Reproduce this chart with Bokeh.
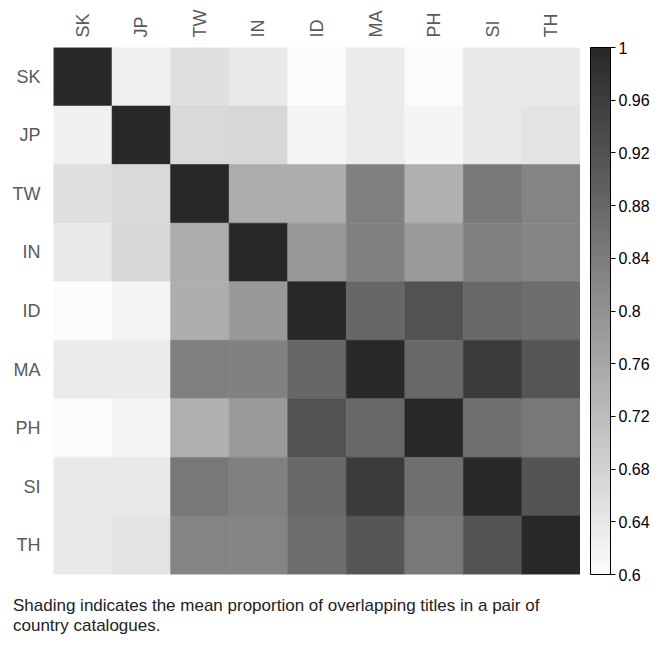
from bokeh.plotting import figure
from bokeh.models import (ColumnDataSource, LinearColorMapper, ColorBar, FixedTicker,
                          Div, CustomJSTickFormatter, Range1d)
from bokeh.layouts import column, row
from bokeh.embed import file_html
from bokeh.resources import INLINE

countries = ["SK", "JP", "TW", "IN", "ID", "MA", "PH", "SI", "TH"]

# mean proportion of overlapping titles (rows follow the country order)
row_SK = [1.000, 0.623, 0.655, 0.638, 0.600, 0.632, 0.602, 0.636, 0.636]
row_JP = [0.623, 1.000, 0.666, 0.670, 0.617, 0.634, 0.615, 0.638, 0.647]
row_TW = [0.655, 0.666, 1.000, 0.749, 0.747, 0.834, 0.743, 0.849, 0.825]
row_IN = [0.638, 0.670, 0.749, 1.000, 0.789, 0.832, 0.785, 0.834, 0.826]
row_ID = [0.600, 0.617, 0.747, 0.789, 1.000, 0.881, 0.919, 0.877, 0.870]
row_MA = [0.632, 0.634, 0.834, 0.832, 0.881, 1.000, 0.879, 0.964, 0.915]
row_PH = [0.602, 0.615, 0.743, 0.785, 0.919, 0.879, 1.000, 0.864, 0.849]
row_SI = [0.636, 0.638, 0.849, 0.834, 0.877, 0.964, 0.864, 1.000, 0.917]
row_TH = [0.636, 0.647, 0.825, 0.826, 0.870, 0.915, 0.849, 0.917, 1.000]
rows = [row_SK, row_JP, row_TW, row_IN, row_ID, row_MA, row_PH, row_SI, row_TH]

colorbar_ticks = [0.6, 0.64, 0.68, 0.72, 0.76, 0.8, 0.84, 0.88, 0.92, 0.96, 1]

caption = ("Shading indicates the mean proportion of overlapping titles in a pair of"
           "<br>country catalogues.")

xs, ys, vals = [], [], []
for r, rw in zip(countries, rows):
    for c, v in zip(countries, rw):
        xs.append(c)
        ys.append(r)
        vals.append(v)
source = ColumnDataSource(dict(x=xs, y=ys, v=vals))

palette = []
for i in range(256):
    g = int(round(252 - i * (252 - 40) / 255))
    palette.append("#%02x%02x%02x" % (g, g, g))
mapper = LinearColorMapper(palette=palette, low=0.6, high=1.0)

FONT = "Liberation Sans"
H = 586
TOP = 47
BOTTOM = 12

p = figure(width=580, height=H, x_range=countries, y_range=list(reversed(countries)),
           x_axis_location="above", output_backend="svg", toolbar_location=None,
           min_border_left=53, min_border_top=TOP, min_border_right=0,
           min_border_bottom=BOTTOM)
p.rect(x="x", y="y", width=1, height=1, source=source,
       fill_color={"field": "v", "transform": mapper},
       line_color={"field": "v", "transform": mapper}, line_width=0.6)

p.grid.visible = False
p.outline_line_color = None
for ax in (p.xaxis, p.yaxis):
    ax.axis_line_color = None
    ax.major_tick_line_color = None
    ax.minor_tick_line_color = None
    ax.major_label_text_font = FONT
    ax.major_label_text_font_size = "18px"
    ax.major_label_text_color = "#5a5a5a"
p.xaxis.major_label_standoff = 4
p.yaxis.major_label_standoff = 7
p.xaxis.major_label_orientation = "vertical"

# colour bar in its own narrow figure so the gap to the matrix is controlled
cbf = figure(width=75, height=H, x_range=Range1d(0, 1), y_range=Range1d(0, 1),
             output_backend="svg", toolbar_location=None,
             min_border_left=0, min_border_top=TOP, min_border_right=65,
             min_border_bottom=BOTTOM)
cbf.axis.visible = False
cbf.grid.visible = False
cbf.outline_line_color = None

cb = ColorBar(color_mapper=mapper, ticker=FixedTicker(ticks=colorbar_ticks),
              formatter=CustomJSTickFormatter(code="return String(tick)"),
              width=20, height=527, padding=0, margin=0,
              major_tick_in=0, major_tick_out=5, major_tick_line_color="black",
              bar_line_color="black", border_line_color=None,
              background_fill_alpha=0,
              major_label_text_font=FONT, major_label_text_font_size="16px",
              major_label_text_color="black", label_standoff=3)
cbf.add_layout(cb, "right")

div = Div(text=caption, width=640,
          styles={"font-family": FONT, "font-size": "17px", "color": "#222",
                  "line-height": "20px", "margin-left": "13px", "margin-top": "10px"})

layout = column(row(p, cbf, spacing=0), div, spacing=0)
open("out.html", "w").write(file_html(layout, INLINE))
